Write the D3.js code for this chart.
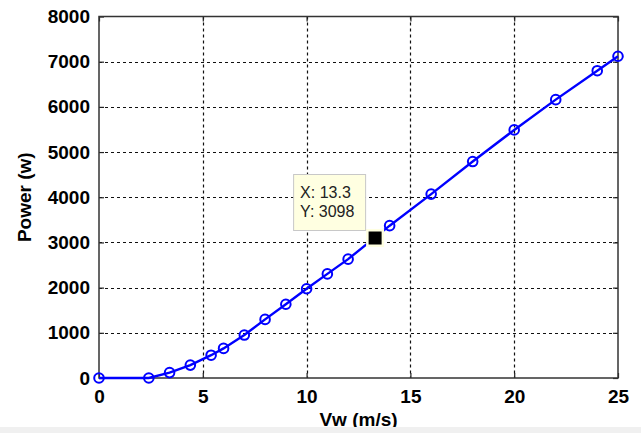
<!DOCTYPE html>
<html>
<head>
<meta charset="utf-8">
<script src="https://cdn.jsdelivr.net/npm/d3@7"></script>
<style>
  html, body { margin: 0; padding: 0; background: #fff; }
  svg { display: block; }
  .tick text { font-family: "Liberation Sans", Arial, sans-serif; font-weight: bold; font-size: 19px; fill: #000; }
</style>
</head>
<body>
<svg id="chart" width="641" height="433"></svg>
<script>
// wind speed (m/s) and power (w)
const windSpeed = [0, 2.4, 3.4, 4.4, 5.4, 6, 7, 8, 9, 10, 11, 12, 14, 16, 18, 20, 22, 24, 25];
const power = [0, 0, 120, 285, 505, 655, 950, 1297, 1632, 1975, 2304, 2630, 3371, 4070, 4790, 5490, 6160, 6800, 7120];
const xTicks = [0, 5, 10, 15, 20, 25];
const yTicks = [0, 1000, 2000, 3000, 4000, 5000, 6000, 7000, 8000];
// data tip
const tipX = 13.3;
const tipY = 3098;

const svg = d3.select('#chart');
const pLeft = 99, pRight = 618, pTop = 16.5, pBottom = 378;

const x = d3.scaleLinear().domain([0, 25]).range([pLeft, pRight]);
const y = d3.scaleLinear().domain([0, 8000]).range([pBottom, pTop]);

// grid
const grid = svg.append('g')
    .attr('stroke', '#111')
    .attr('stroke-width', 1.2)
    .attr('stroke-dasharray', '3,3');
grid.selectAll('line.gx').data(xTicks.slice(1, -1)).enter().append('line')
    .attr('x1', d => Math.round(x(d)) + 0.5).attr('x2', d => Math.round(x(d)) + 0.5)
    .attr('y1', pTop).attr('y2', pBottom);
grid.selectAll('line.gy').data(yTicks.slice(1, -1)).enter().append('line')
    .attr('x1', pLeft).attr('x2', pRight)
    .attr('y1', d => Math.round(y(d)) + 0.5).attr('y2', d => Math.round(y(d)) + 0.5);

// axes (ticks inward)
svg.append('g').attr('transform', `translate(0,${pBottom})`)
    .call(d3.axisBottom(x).tickValues(xTicks).tickSize(-5).tickPadding(12).tickFormat(d3.format('d')));
svg.append('g').attr('transform', `translate(${pLeft},0)`)
    .call(d3.axisLeft(y).tickValues(yTicks).tickSize(-5).tickPadding(9).tickFormat(d3.format('d')));
svg.append('g').attr('transform', `translate(0,${pTop})`)
    .call(d3.axisTop(x).tickValues(xTicks).tickSize(-5).tickFormat(''));
svg.append('g').attr('transform', `translate(${pRight},0)`)
    .call(d3.axisRight(y).tickValues(yTicks).tickSize(-5).tickFormat(''));
svg.selectAll('.domain').remove();
svg.selectAll('.tick line').attr('stroke', '#222').attr('stroke-width', 1.2);

// box
svg.append('rect')
    .attr('x', pLeft).attr('y', pTop)
    .attr('width', pRight - pLeft).attr('height', pBottom - pTop)
    .attr('fill', 'none').attr('stroke', '#333').attr('stroke-width', 1.5);

// line + markers
const pts = windSpeed.map((v, i) => [v, power[i]]);
svg.append('path')
    .datum(pts)
    .attr('fill', 'none')
    .attr('stroke', '#0000ff')
    .attr('stroke-width', 2.4)
    .attr('d', d3.line().x(d => x(d[0])).y(d => y(d[1])));
svg.selectAll('circle.m').data(pts).enter().append('circle')
    .attr('cx', d => x(d[0])).attr('cy', d => y(d[1]))
    .attr('r', 4.8)
    .attr('fill', 'none')
    .attr('stroke', '#0000ff')
    .attr('stroke-width', 2);

// data tip
const tx = x(tipX), ty = y(tipY);
svg.append('rect')
    .attr('x', tx - 9).attr('y', ty - 9).attr('width', 18).attr('height', 18)
    .attr('fill', '#ffffe1');
svg.append('rect')
    .attr('x', tx - 6.5).attr('y', ty - 6.5).attr('width', 13).attr('height', 13)
    .attr('fill', '#000');
const box = svg.append('g').attr('transform', `translate(${tx - 82},${ty - 64})`);
box.append('rect')
    .attr('x', 0.5).attr('y', 0.5).attr('width', 72).attr('height', 56)
    .attr('fill', '#ffffe1').attr('stroke', '#c8c8c8');
box.append('text').attr('x', 7).attr('y', 24)
    .attr('font-family', '"Liberation Sans", Arial, sans-serif').attr('font-size', 16).attr('fill', '#222')
    .text('X: ' + tipX);
box.append('text').attr('x', 7).attr('y', 43)
    .attr('font-family', '"Liberation Sans", Arial, sans-serif').attr('font-size', 16).attr('fill', '#222')
    .text('Y: ' + tipY);

// axis labels
svg.append('text')
    .attr('x', (pLeft + pRight) / 2).attr('y', 426)
    .attr('text-anchor', 'middle')
    .attr('font-family', '"Liberation Sans", Arial, sans-serif').attr('font-weight', 'bold').attr('font-size', 19)
    .text('Vw (m/s)');
svg.append('text')
    .attr('transform', `translate(31,${(pTop + pBottom) / 2}) rotate(-90)`)
    .attr('text-anchor', 'middle')
    .attr('font-family', '"Liberation Sans", Arial, sans-serif').attr('font-weight', 'bold').attr('font-size', 19)
    .text('Power (w)');

// window strip at the bottom
svg.append('rect')
    .attr('x', 0).attr('y', 427).attr('width', 641).attr('height', 6)
    .attr('fill', '#f0f0f0');
</script>
</body>
</html>
